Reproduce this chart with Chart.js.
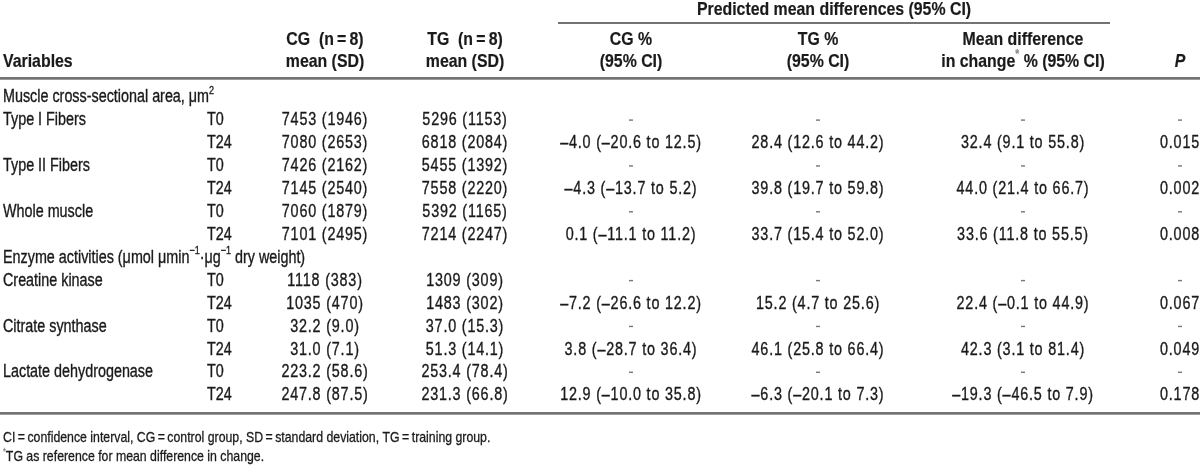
<!DOCTYPE html>
<html>
<head>
<meta charset="utf-8">
<script src="https://cdn.jsdelivr.net/npm/chart.js@4.4.1/dist/chart.umd.min.js"></script>
<style>
  html, body { margin: 0; background: #fff; }
  #wrap { width: 1200px; height: 470px; position: relative; }
</style>
</head>
<body>
<div id="wrap"><canvas id="tbl"></canvas></div>
<script>
// --- table content ---
const rowIds = ['s1', 'r1', 'r2', 'r3', 'r4', 'r5', 'r6', 's2', 'r7', 'r8', 'r9', 'r10', 'r11', 'r12'];
const rowVariables = ['Muscle cross-sectional area, \u03bcm{^2}', 'Type I Fibers', '', 'Type II Fibers', '', 'Whole muscle', '',
  'Enzyme activities (\u03bcmol \u03bcmin{^\u22121}\u00b7\u03bcg{^\u22121} dry weight)', 'Creatine kinase', '', 'Citrate synthase', '', 'Lactate dehydrogenase', ''];
const rowTimes = ['', 'T0', 'T24', 'T0', 'T24', 'T0', 'T24', '', 'T0', 'T24', 'T0', 'T24', 'T0', 'T24'];
const cgMeanSD = ['', '7453 (1946)', '7080 (2653)', '7426 (2162)', '7145 (2540)', '7060 (1879)', '7101 (2495)',
  '', '1118 (383)', '1035 (470)', '32.2 (9.0)', '31.0 (7.1)', '223.2 (58.6)', '247.8 (87.5)'];
const tgMeanSD = ['', '5296 (1153)', '6818 (2084)', '5455 (1392)', '7558 (2220)', '5392 (1165)', '7214 (2247)',
  '', '1309 (309)', '1483 (302)', '37.0 (15.3)', '51.3 (14.1)', '253.4 (78.4)', '231.3 (66.8)'];
const cgPct = ['', '-', '\u20134.0 (\u201320.6 to 12.5)', '-', '\u20134.3 (\u201313.7 to 5.2)', '-', '0.1 (\u201311.1 to 11.2)',
  '', '-', '\u20137.2 (\u201326.6 to 12.2)', '-', '3.8 (\u201328.7 to 36.4)', '-', '12.9 (\u201310.0 to 35.8)'];
const tgPct = ['', '-', '28.4 (12.6 to 44.2)', '-', '39.8 (19.7 to 59.8)', '-', '33.7 (15.4 to 52.0)',
  '', '-', '15.2 (4.7 to 25.6)', '-', '46.1 (25.8 to 66.4)', '-', '\u20136.3 (\u201320.1 to 7.3)'];
const diffPct = ['', '-', '32.4 (9.1 to 55.8)', '-', '44.0 (21.4 to 66.7)', '-', '33.6 (11.8 to 55.5)',
  '', '-', '22.4 (\u20130.1 to 44.9)', '-', '42.3 (3.1 to 81.4)', '-', '\u201319.3 (\u201346.5 to 7.9)'];
const pValues = ['', '-', '0.015', '-', '0.002', '-', '0.008', '', '-', '0.067', '-', '0.049', '-', '0.178'];

const spanHeader = 'Predicted mean differences (95% CI)';
const footnotes = ['CI\u2009=\u2009confidence interval, CG\u2009=\u2009control group, SD\u2009=\u2009standard deviation, TG\u2009=\u2009training group.',
  '{^*}TG as reference for mean difference in change.'];

// column layout (x in px on a 0..1200 axis)
const columns = [
  { key: 'var',  values: rowVariables, x: 3,    align: 'left',   head: ['', 'Variables'] },
  { key: 'time', values: rowTimes,     x: 207,  align: 'left',   head: ['', ''] },
  { key: 'cg',   values: cgMeanSD,     x: 325,  align: 'center', head: ['CG  (n\u2009=\u20098)', 'mean (SD)'], num: true },
  { key: 'tg',   values: tgMeanSD,     x: 465,  align: 'center', head: ['TG  (n\u2009=\u20098)', 'mean (SD)'], num: true },
  { key: 'cgp',  values: cgPct,        x: 631,  align: 'center', head: ['CG %', '(95% CI)'], num: true },
  { key: 'tgp',  values: tgPct,        x: 818,  align: 'center', head: ['TG %', '(95% CI)'], num: true },
  { key: 'md',   values: diffPct,      x: 1023, align: 'center', head: ['Mean difference', 'in change{^*} % (95% CI)'], num: true },
  { key: 'p',    values: pValues,      x: 1180, align: 'center', head: ['', 'P'], num: true, italicHead: true }
];

// condensed look: Liberation Sans squeezed horizontally
const FAMILY = '"Liberation Sans", Arial, sans-serif';
const BODY = { size: 17.5, kx: 0.82, heavy: 0.35 };
const HEAD = { size: 19, kx: 0.835, heavy: 0.2 };
const NOTE = { size: 15, kx: 0.82, heavy: 0.3 };
const TEXT_COLOR = '#1a1a1a';

// split "abc{^sup}def" into segments
function parseRich(str) {
  const segs = [];
  const re = /\{\^([^}]*)\}/g;
  let last = 0, m;
  while ((m = re.exec(str)) !== null) {
    if (m.index > last) segs.push({ t: str.slice(last, m.index), sup: false });
    segs.push({ t: m[1], sup: true });
    last = re.lastIndex;
  }
  if (last < str.length) segs.push({ t: str.slice(last), sup: false });
  return segs;
}

function drawRich(ctx, str, x, y, align, f, weight, style, spacing) {
  if (!str) return;
  const segs = parseRich(str);
  const fontFor = (sup) => `${style || 'normal'} ${weight || 'normal'} ${sup ? Math.round(f.size * 0.62) : f.size}px ${FAMILY}`;
  ctx.save();
  ctx.letterSpacing = spacing || '0px';
  let total = 0;
  segs.forEach(s => { ctx.font = fontFor(s.sup); s.w = ctx.measureText(s.t).width; total += s.w; });
  const w = total * f.kx;
  const left = align === 'center' ? x - w / 2 : (align === 'right' ? x - w : x);
  ctx.translate(left, y);
  ctx.scale(f.kx, 1);
  ctx.textAlign = 'left';
  ctx.textBaseline = 'middle';
  let cx = 0;
  segs.forEach(s => {
    ctx.font = fontFor(s.sup);
    const col = s.sup && s.t === '*' ? '#888' : TEXT_COLOR;
    const sy = s.sup ? -f.size * 0.38 : 0;
    ctx.fillStyle = col;
    ctx.fillText(s.t, cx, sy);
    if (f.heavy) {
      // scanned print looks a bit heavier than the bare font
      ctx.strokeStyle = col;
      ctx.lineWidth = f.heavy;
      ctx.strokeText(s.t, cx, sy);
    }
    cx += s.w;
  });
  ctx.restore();
}

function hRule(ctx, x0, x1, y, double) {
  ctx.save();
  ctx.strokeStyle = '#444';
  ctx.lineWidth = 1.5;
  ctx.beginPath(); ctx.moveTo(x0, y); ctx.lineTo(x1, y); ctx.stroke();
  if (double) {
    ctx.strokeStyle = '#9a9a9a';
    ctx.lineWidth = 1;
    ctx.beginPath(); ctx.moveTo(x0, y + 1.5); ctx.lineTo(x1, y + 1.5); ctx.stroke();
  }
  ctx.restore();
}

const tablePlugin = {
  id: 'tablePlugin',
  afterDatasetsDraw(chart) {
    const ctx = chart.ctx;
    const xs = chart.scales.x;
    const area = chart.chartArea;
    ctx.save();

    // header block
    const spanL = xs.getPixelForValue(558), spanR = xs.getPixelForValue(1110);
    drawRich(ctx, spanHeader, (spanL + spanR) / 2, 10, 'center', HEAD, 'bold');
    hRule(ctx, spanL, spanR, 23, false);
    columns.forEach(c => {
      const px = xs.getPixelForValue(c.x);
      drawRich(ctx, c.head[0], px, 40, c.align, HEAD, 'bold');
      drawRich(ctx, c.head[1], px, 62, c.align, HEAD, 'bold', c.italicHead ? 'italic' : 'normal');
    });
    hRule(ctx, 0, chart.width, 78, true);

    // body cells, placed on the points the scales computed
    chart.data.datasets.forEach((ds, i) => {
      const meta = chart.getDatasetMeta(i);
      meta.data.forEach((pt, j) => {
        const txt = ds.data[j].text;
        if (txt === '-') {
          ctx.fillStyle = '#777';
          ctx.fillRect(pt.x - 2, pt.y - 1, 4, 1.4);
          return;
        }
        drawRich(ctx, txt, pt.x, pt.y, ds.align, BODY, 'normal', 'normal', ds.num ? '1px' : '0px');
      });
    });

    // bottom rule and footnotes
    hRule(ctx, 0, chart.width, area.bottom + 6, true);
    drawRich(ctx, footnotes[0], 3, area.bottom + 31, 'left', NOTE);
    drawRich(ctx, footnotes[1], 3, area.bottom + 50, 'left', NOTE);
    ctx.restore();
  }
};

new Chart(document.getElementById('tbl'), {
  type: 'scatter',
  data: {
    datasets: columns.map(c => ({
      label: c.key,
      align: c.align,
      num: !!c.num,
      data: c.values.map((v, i) => ({ x: c.x, y: rowIds[i], text: v })),
      pointRadius: 0,
      pointHoverRadius: 0,
      showLine: false
    }))
  },
  options: {
    responsive: true,
    maintainAspectRatio: false,
    animation: false,
    events: [],
    layout: { padding: { top: 86, bottom: 63, left: 0, right: 0 } },
    scales: {
      x: { type: 'linear', min: 0, max: 1200, display: false },
      y: { type: 'category', labels: rowIds, offset: true, display: false }
    },
    plugins: { legend: { display: false }, tooltip: { enabled: false } }
  },
  plugins: [tablePlugin]
});
</script>
</body>
</html>
